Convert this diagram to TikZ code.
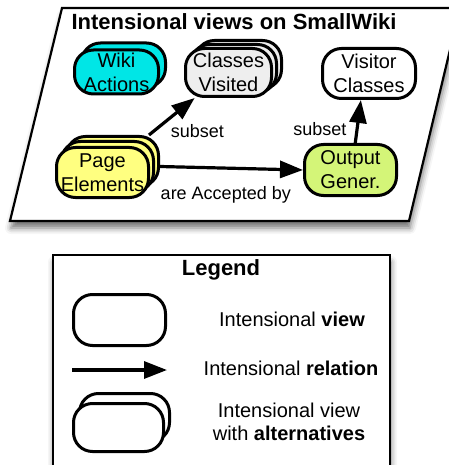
\documentclass[tikz,border=0pt]{standalone}
\usepackage{fontspec}
\setmainfont{Liberation Sans}
\usetikzlibrary{arrows.meta,calc,shadows.blur}
\definecolor{wikicyan}{RGB}{0,230,230}
\definecolor{visitgray}{RGB}{238,238,238}
\definecolor{pageyellow}{RGB}{255,255,128}
\definecolor{outgreen}{RGB}{212,245,120}

\begin{document}
\begin{tikzpicture}[x=1pt,y=-1pt,>={Triangle[length=23pt,width=17pt,fill=black]}]
        \tikzstyle{view}=[draw,line width=3pt,rounded corners=19pt,inner sep=0pt,align=center,
                          minimum width=92pt,minimum height=50pt,font=\fontsize{20}{24}\selectfont]
        \tikzstyle{rel}=[->,line width=3.2pt,draw=black]
        \tikzstyle{lbl}=[inner sep=0pt,font=\fontsize{18}{21}\selectfont]
        \tikzstyle{txt}=[inner sep=0pt,align=center,font=\fontsize{20}{23}\selectfont]
        \tikzstyle{frame}=[draw,line width=2.2pt,fill=white,
                           blur shadow={shadow xshift=1pt,shadow yshift=-7pt,shadow blur radius=6pt,shadow opacity=55}]

        \useasboundingbox (0,0) rectangle (448,465);

        % intensional views on SmallWiki
        \draw[frame] (62,8) -- (460,8) -- (409,221) -- (10,221) -- cycle;
        \node[inner sep=0pt,font=\fontsize{22}{26}\selectfont\bfseries] (T1) at (234,22) {Intensional views on SmallWiki};

        \node[view,fill=wikicyan,minimum width=84pt,minimum height=44pt]   (WA1) at (123.5,65)   { };
        \node[view,fill=wikicyan,minimum width=84pt,minimum height=44pt]   (WA)  at (116.5,72)   {Wiki\\Actions};
        \node[view,fill=visitgray,minimum width=86pt,minimum height=48pt]  (CV2) at (238.5,64.5) { };
        \node[view,fill=visitgray,minimum width=86pt,minimum height=48pt]  (CV1) at (233.5,68.5) { };
        \node[view,fill=visitgray,minimum width=86pt,minimum height=48pt]  (CV)  at (228.5,72.5) {Classes\\Visited};
        \node[view,fill=white,minimum width=93pt]                          (VC)  at (369,73.5)   {Visitor\\Classes};
        \node[view,fill=pageyellow]                                        (PE2) at (112.5,161.5) { };
        \node[view,fill=pageyellow]                                        (PE1) at (107.5,166.5) { };
        \node[view,fill=pageyellow]                                        (PE)  at (102.5,172.5) {Page\\Elements};
        \node[view,fill=outgreen,minimum height=51pt]                      (OG)  at (350.5,170)  {Output\\Gener.};

        \draw[rel] (PE2.36) -- (CV.217)
                   node[lbl,pos=0.4,anchor=north west,xshift=2pt,yshift=-3pt] {subset};
        \draw[rel] (PE1.east -| PE2.east) -- (OG.west)
                   node[lbl,pos=0.46,below=17pt] {are Accepted by};
        \draw[rel] (OG.80) -- (VC.253)
                   node[lbl,pos=0.32,left=9pt] {subset};

        % legend
        \draw[frame] (53,255) rectangle (390,490);
        \node[inner sep=0pt,font=\fontsize{22}{26}\selectfont\bfseries] (T2) at (221,270) {Legend};

        \node[view,fill=white,minimum height=51pt] (L1)  at (119.5,320) { };
        \node[txt]                                 (D1)  at (292,319)   {Intensional \textbf{view}};
        \coordinate (A1) at (72,370);
        \coordinate (A2) at (167,370);
        \draw[rel] (A1) -- (A2);
        \node[txt]                                 (D2)  at (291,368)   {Intensional \textbf{relation}};
        \node[view,fill=white,minimum width=90pt,minimum height=48pt] (L3b) at (124.5,417.5) { };
        \node[view,fill=white,minimum width=90pt,minimum height=48pt] (L3)  at (118.5,427.5) { };
        \node[txt]                                 (D3)  at (289,422)   {Intensional view\\with \textbf{alternatives}};
\end{tikzpicture}
\end{document}
